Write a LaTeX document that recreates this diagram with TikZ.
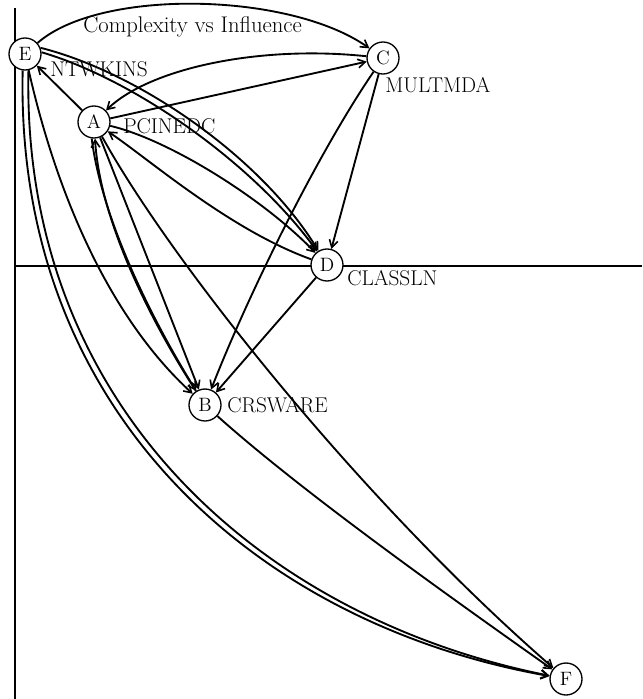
\documentclass[tikz,border=0pt]{standalone}
\usepackage{fontspec}
\usetikzlibrary{arrows.meta}
\begin{document}
\begin{tikzpicture}[x=0.75pt,y=-0.75pt,
  vtx/.style={circle,draw,line width=1pt,fill=white,minimum size=24pt,inner sep=0pt,font=\fontsize{14.5}{14.5}\selectfont},
  lbl/.style={anchor=base west,inner sep=0pt,font=\fontsize{16}{16}\selectfont},
  ttl/.style={anchor=base west,inner sep=0pt,font=\fontsize{17}{17}\selectfont},
  edge/.style={line width=1.4pt,-{Straight Barb[length=5.5pt,width=6.5pt,line width=1.2pt]}},
  axisline/.style={line width=1pt}]
\useasboundingbox (0,0) rectangle (642,699);
% axes
\coordinate (vt) at (15,8);
\coordinate (vb) at (15,699);
\coordinate (hl) at (15,266);
\coordinate (hr) at (642,266);
\draw[axisline] (vt) -- (vb);
\draw[axisline] (hl) -- (hr);
% vertices
\node[vtx] (E) at (25,54) {E};
\node[vtx] (C) at (383,58) {C};
\node[vtx] (A) at (94,122) {A};
\node[vtx] (D) at (327,265) {D};
\node[vtx] (B) at (205,405) {B};
\node[vtx] (F) at (566,679) {F};
% labels
\node[ttl] (title) at (83,33) {Complexity vs Influence};
\node[lbl] (lE) at (50,77) {NTWKINS};
\node[lbl] (lC) at (385,93) {MULTMDA};
\node[lbl] (lA) at (123,133) {PCINEDC};
\node[lbl] (lD) at (347,285) {CLASSLN};
\node[lbl] (lB) at (227,412) {CRSWARE};
% edges
\draw[edge] (E) .. controls (100,-12) and (290,-8) .. (C);
\draw[edge] (C) .. controls (260,45) and (150,68) .. (A);
\draw[edge] (A) -- (C);
\draw[edge] (A) -- (E);
\draw[edge] (E.22) .. controls (140,73) and (262,158) .. (D);
\draw[edge] (E.6) .. controls (136,80) and (255,165) .. (D);
\draw[edge] (D) .. controls (230,230) and (150,160) .. (A);
\draw[edge] (A) .. controls (170,140) and (265,200) .. (D);
\draw[edge] (C) -- (D);
\draw[edge] (C) .. controls (320,150) and (250,290) .. (B);
\draw[edge] (D) -- (B);
\draw[edge] (E) .. controls (58,200) and (112,320) .. (B);
\draw[edge] (B) .. controls (150,320) and (100,220) .. (A);
\draw[edge] (A.262) .. controls (102,220) and (152,320) .. (B);
\draw[edge] (A) -- (B);
\draw[edge] (A) .. controls (170,260) and (360,500) .. (F);
\draw[edge] (B) .. controls (300,490) and (440,590) .. (F);
\draw[edge] (E.262) .. controls (15,410) and (255,624) .. (F);
\draw[edge] (E.282) .. controls (21,406) and (261,618) .. (F);
\end{tikzpicture}
\end{document}
